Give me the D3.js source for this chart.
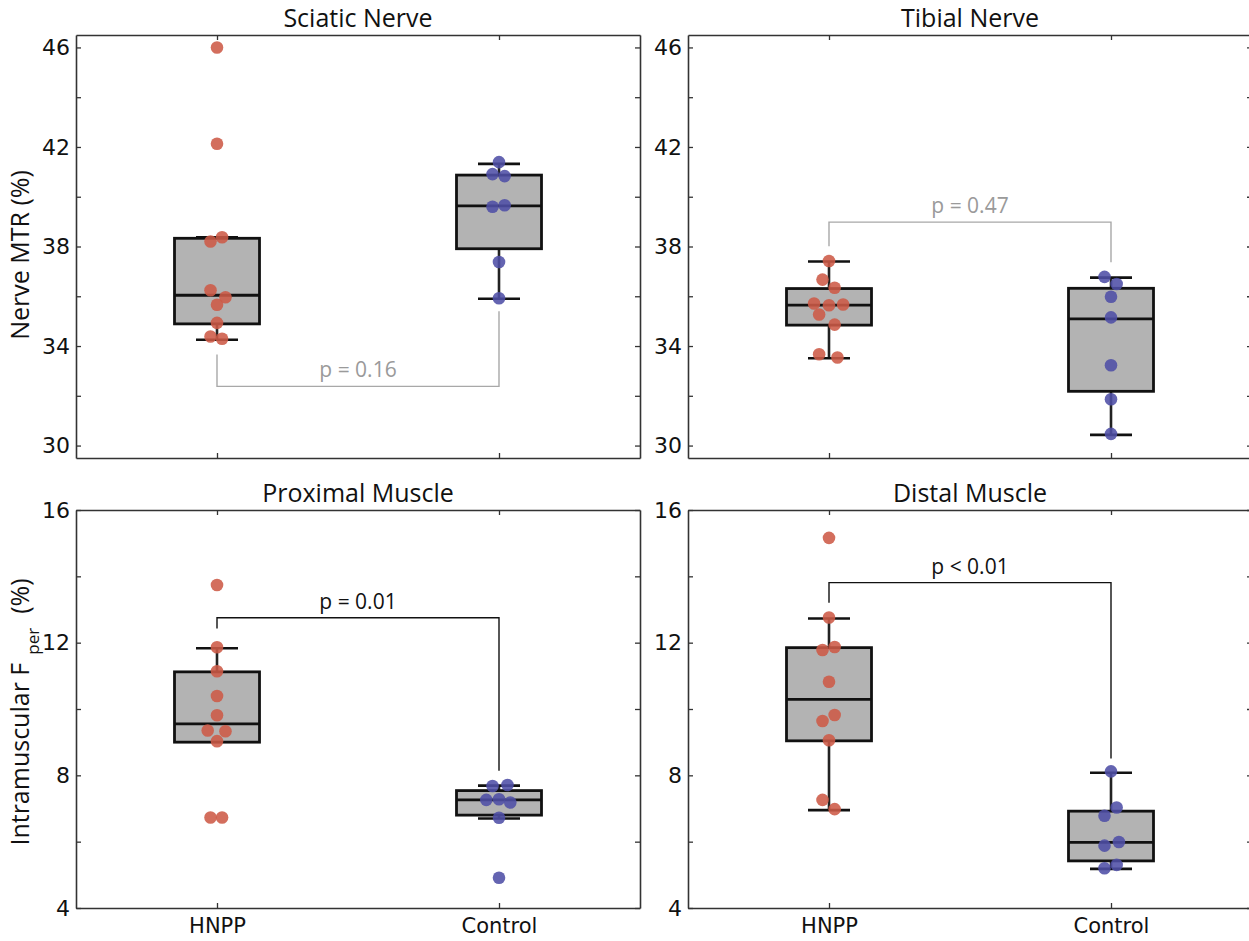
<!DOCTYPE html>
<html>
<head>
<meta charset="utf-8">
<script src="https://cdn.jsdelivr.net/npm/d3@7"></script>
<style>
  body { margin: 0; background: #fff; }
  svg { display: block; }
  .tick text { font-family: "DejaVu Sans", sans-serif; }
</style>
</head>
<body>
<div id="chart"></div>
<script>
var svgWidth = 1249;
var svgHeight = 941;

// ---------------- data ----------------
var groups = ["HNPP", "Control"];
var panelTitles = ["Sciatic Nerve", "Tibial Nerve", "Proximal Muscle", "Distal Muscle"];

// individual subjects, per panel: [HNPP values, Control values]
var sciaticHNPP = [46.0, 42.13, 38.2, 38.37, 36.24, 35.96, 35.66, 34.93, 34.38, 34.29];
var sciaticCtrl = [41.39, 40.91, 40.83, 39.6, 39.66, 37.38, 35.92];
var tibialHNPP = [37.42, 36.67, 36.34, 35.71, 35.64, 35.67, 35.27, 34.86, 33.67, 33.54];
var tibialCtrl = [36.78, 36.49, 35.98, 35.15, 33.23, 31.86, 30.47];
var proximalHNPP = [13.74, 11.86, 11.14, 10.39, 9.81, 9.35, 9.33, 9.03, 6.73, 6.73];
var proximalCtrl = [7.68, 7.71, 7.26, 7.28, 7.18, 6.72, 4.91];
var distalHNPP = [15.16, 12.76, 11.78, 11.87, 10.82, 9.82, 9.64, 9.06, 7.26, 6.98];
var distalCtrl = [8.12, 7.03, 6.78, 5.88, 5.99, 5.20, 5.30];

// horizontal jitter of the dots (category units)
var sciaticHNPPJit = [0, 0, -0.023, 0.018, -0.023, 0.030, 0, 0, -0.023, 0.018];
var sciaticCtrlJit = [0, -0.023, 0.020, -0.023, 0.020, 0, 0];
var tibialHNPPJit = [0, -0.023, 0.020, -0.053, 0, 0.050, -0.035, 0.020, -0.035, 0.030];
var tibialCtrlJit = [-0.023, 0.020, 0, 0, 0, 0, 0];
var proximalHNPPJit = [0, 0, 0, 0, 0, -0.033, 0.030, 0, -0.023, 0.018];
var proximalCtrlJit = [-0.023, 0.030, -0.045, 0, 0.040, 0, 0];
var distalHNPPJit = [0, 0, -0.023, 0.020, 0, 0.020, -0.023, 0, -0.023, 0.020];
var distalCtrlJit = [0, 0.020, -0.023, -0.023, 0.028, -0.023, 0.020];

// box statistics: [lower whisker, Q1, median, Q3, upper whisker]
var sciaticBoxes = [[34.25, 34.89, 36.04, 38.33, 38.37], [35.9, 37.91, 39.63, 40.87, 41.32]];
var tibialBoxes = [[33.51, 34.84, 35.64, 36.31, 37.40], [30.43, 32.18, 35.09, 36.32, 36.75]];
var proximalBoxes = [[9.03, 9.0, 9.55, 11.12, 11.83], [6.70, 6.80, 7.26, 7.54, 7.69]];
var distalBoxes = [[6.95, 9.04, 10.29, 11.85, 12.73], [5.18, 5.42, 5.98, 6.92, 8.08]];

// significance brackets: [bar level, HNPP leg end, Control leg end]
var pLabels = ["p = 0.16", "p = 0.47", "p = 0.01", "p < 0.01"];
var pBrackets = [[32.38, 33.66, 35.4], [38.98, 38.01, 37.37], [12.75, 12.43, 8.14], [13.81, 13.2, 8.51]];
var pSignificant = [false, false, true, true];

// axes
var nerveDomain = [29.5, 46.5];
var nerveTicks = [30, 32, 34, 36, 38, 40, 42, 44, 46];
var nerveLabels = [30, 34, 38, 42, 46];
var muscleDomain = [4, 16];
var muscleTicks = [4, 6, 8, 10, 12, 14, 16];
var muscleLabels = [4, 8, 12, 16];

// ---------------- layout ----------------
var panelW = 564;
var colX = [76, 688];
var rowY = [35, 510];
var rowH = [423, 398];

var red = "#cd5a47";
var blue = "#4f4fa6";
var boxFill = "#b3b3b3";

var panels = [
  {title: panelTitles[0], row: 0, col: 0, vals: [sciaticHNPP, sciaticCtrl], jit: [sciaticHNPPJit, sciaticCtrlJit], boxes: sciaticBoxes},
  {title: panelTitles[1], row: 0, col: 1, vals: [tibialHNPP, tibialCtrl], jit: [tibialHNPPJit, tibialCtrlJit], boxes: tibialBoxes},
  {title: panelTitles[2], row: 1, col: 0, vals: [proximalHNPP, proximalCtrl], jit: [proximalHNPPJit, proximalCtrlJit], boxes: proximalBoxes},
  {title: panelTitles[3], row: 1, col: 1, vals: [distalHNPP, distalCtrl], jit: [distalHNPPJit, distalCtrlJit], boxes: distalBoxes}
];

var svg = d3.select("#chart")
  .append("svg")
  .attr("width", svgWidth)
  .attr("height", svgHeight);

panels.forEach(function(p, i) {
  var h = rowH[p.row];
  var isNerve = p.row === 0;
  var g = svg.append("g")
    .attr("transform", `translate(${colX[p.col]}, ${rowY[p.row]})`);

  var x = d3.scaleLinear().domain([0.5, 2.5]).range([0, panelW]);
  var y = d3.scaleLinear().domain(isNerve ? nerveDomain : muscleDomain).range([h, 0]);
  var ticks = isNerve ? nerveTicks : muscleTicks;
  var labels = isNerve ? nerveLabels : muscleLabels;

  // axes / frame
  var fmt = function(d) { return labels.indexOf(d) >= 0 ? d : ""; };
  var axes = [
    g.append("g").call(d3.axisLeft(y).tickValues(ticks).tickSize(-5).tickSizeOuter(0).tickPadding(6).tickFormat(fmt)),
    g.append("g").attr("transform", `translate(${panelW},0)`)
      .call(d3.axisRight(y).tickValues(ticks).tickSize(-5).tickSizeOuter(0).tickFormat("")),
    g.append("g").attr("transform", `translate(0,${h})`)
      .call(d3.axisBottom(x).tickValues([1, 2]).tickSize(-5).tickSizeOuter(0).tickPadding(10)
        .tickFormat(function(d) { return isNerve ? "" : groups[d - 1]; })),
    g.append("g")
      .call(d3.axisTop(x).tickValues([1, 2]).tickSize(-5).tickSizeOuter(0).tickFormat(""))
  ];
  axes.forEach(function(a) {
    a.select(".domain").attr("stroke", "#333").attr("stroke-width", 1.6);
    a.selectAll(".tick line").attr("stroke", "#333").attr("stroke-width", 1.3);
    a.selectAll(".tick text").attr("fill", "#111").attr("font-size", 22);
  });
  axes[2].selectAll(".tick text").attr("font-family", "'Open Sans', sans-serif").attr("font-size", 21);

  // title
  g.append("text")
    .attr("x", panelW / 2)
    .attr("y", -8)
    .attr("text-anchor", "middle")
    .attr("font-family", "'Open Sans', sans-serif")
    .attr("font-size", 25)
    .attr("fill", "#111")
    .text(p.title);

  // boxes
  var boxW = 85 / 282, capW = 42 / 282;
  p.boxes.forEach(function(b, k) {
    var cx = k + 1;
    var bg = g.append("g");
    bg.append("line")
      .attr("x1", x(cx)).attr("x2", x(cx))
      .attr("y1", y(b[3])).attr("y2", y(b[4]))
      .attr("stroke", "#222").attr("stroke-width", 2.6);
    bg.append("line")
      .attr("x1", x(cx)).attr("x2", x(cx))
      .attr("y1", y(b[0])).attr("y2", y(b[1]))
      .attr("stroke", "#222").attr("stroke-width", 2.6);
    [b[0], b[4]].forEach(function(v) {
      bg.append("line")
        .attr("x1", x(cx - capW / 2)).attr("x2", x(cx + capW / 2))
        .attr("y1", y(v)).attr("y2", y(v))
        .attr("stroke", "#111").attr("stroke-width", 2.6);
    });
    bg.append("rect")
      .attr("x", x(cx - boxW / 2))
      .attr("y", y(b[3]))
      .attr("width", x(cx + boxW / 2) - x(cx - boxW / 2))
      .attr("height", y(b[1]) - y(b[3]))
      .attr("fill", boxFill)
      .attr("stroke", "#111")
      .attr("stroke-width", 2.8);
    bg.append("line")
      .attr("x1", x(cx - boxW / 2)).attr("x2", x(cx + boxW / 2))
      .attr("y1", y(b[2])).attr("y2", y(b[2]))
      .attr("stroke", "#111").attr("stroke-width", 2.8);
  });

  // dots
  p.vals.forEach(function(vals, k) {
    g.selectAll(".dot" + k)
      .data(vals)
      .enter()
      .append("circle")
      .attr("class", "dot" + k)
      .attr("cx", (d, j) => x(k + 1 + p.jit[k][j]))
      .attr("cy", d => y(d))
      .attr("r", 6.3)
      .attr("fill", k === 0 ? red : blue)
      .attr("fill-opacity", 0.88);
  });

  // significance bracket
  var br = pBrackets[i];
  var col = pSignificant[i] ? "#111" : "#a8a8a8";
  g.append("path")
    .attr("d", d3.line()([[x(1), y(br[1])], [x(1), y(br[0])], [x(2), y(br[0])], [x(2), y(br[2])]]))
    .attr("fill", "none")
    .attr("stroke", col)
    .attr("stroke-width", 1.4);
  g.append("text")
    .attr("x", x(1.5))
    .attr("y", y(br[0]) - 9)
    .attr("text-anchor", "middle")
    .attr("font-family", "'Open Sans', sans-serif")
    .attr("font-size", 21)
    .attr("fill", pSignificant[i] ? "#111" : "#9a9a9a")
    .text(pLabels[i]);
});

// y axis titles
svg.append("text")
  .attr("transform", "translate(29, 255) rotate(-90)")
  .attr("text-anchor", "middle")
  .attr("font-family", "'Open Sans', sans-serif")
  .attr("font-size", 25)
  .attr("fill", "#111")
  .text("Nerve MTR (%)");

var yl = svg.append("text")
  .attr("transform", "translate(29, 712) rotate(-90)")
  .attr("text-anchor", "middle")
  .attr("font-family", "'Open Sans', sans-serif")
  .attr("font-size", 25)
  .attr("fill", "#111");
yl.append("tspan").text("Intramuscular F");
yl.append("tspan").attr("dy", 10).attr("dx", 8).attr("font-size", 17).text("per");
yl.append("tspan").attr("dy", -10).attr("dx", 14).text("(%)");
</script>
</body>
</html>
